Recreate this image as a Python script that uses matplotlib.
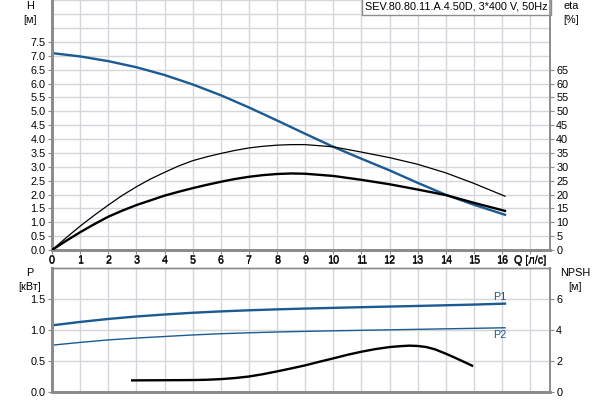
import matplotlib
matplotlib.use("Agg")
import matplotlib.pyplot as plt
from matplotlib.ticker import FixedLocator

plt.rcParams['font.family'] = ['Liberation Sans', 'DejaVu Sans']

# ---------------- data ----------------
title = "SEV.80.80.11.A.4.50D, 3*400 V, 50Hz"
Q = [0, 1, 2, 3, 4, 5, 6, 7, 8, 9, 10, 11, 12, 13, 14, 15, 16.1]
H = [7.1, 6.98, 6.81, 6.59, 6.31, 5.97, 5.58, 5.14, 4.67, 4.19, 3.72, 3.29, 2.87, 2.42, 1.99, 1.63, 1.27]
Q_eta = [0, 0.5, 1, 1.5, 2, 2.5, 3, 3.5, 4, 4.5, 5, 5.5, 6, 6.5, 7, 7.5, 8, 8.5, 9, 10, 11, 12, 13, 14, 15, 16.1]
eta_pump = [0, 4.4, 8.6, 12.5, 16.2, 19.7, 22.8, 25.6, 28.0, 30.3, 32.2, 33.6, 34.8, 35.9, 36.8, 37.4, 37.8, 38.0, 38.0, 37.2, 35.3, 33.3, 30.9, 27.8, 24.0, 19.4]
eta_total = [0, 3.3, 6.4, 9.3, 12.0, 14.2, 16.2, 17.9, 19.6, 21.0, 22.3, 23.5, 24.6, 25.6, 26.4, 27.0, 27.4, 27.6, 27.5, 26.7, 25.3, 23.7, 21.8, 19.8, 17.0, 14.1]
P1 = [1.075, 1.13, 1.178, 1.218, 1.25, 1.278, 1.30, 1.318, 1.333, 1.346, 1.357, 1.368, 1.378, 1.388, 1.399, 1.41, 1.425]
P2 = [0.755, 0.80, 0.84, 0.87, 0.895, 0.92, 0.94, 0.955, 0.968, 0.978, 0.987, 0.995, 1.003, 1.011, 1.019, 1.027, 1.036]
Q_npsh = [2.85, 4, 5, 5.5, 6, 6.5, 7, 7.5, 8, 8.5, 9, 9.5, 10, 10.5, 11, 11.5, 12, 12.4, 12.7, 13, 13.3, 13.6, 14, 14.3, 14.6, 14.93]
NPSH = [0.75, 0.76, 0.77, 0.79, 0.83, 0.9, 1.0, 1.15, 1.33, 1.52, 1.72, 1.95, 2.17, 2.4, 2.6, 2.77, 2.9, 2.96, 2.99, 2.97, 2.9, 2.76, 2.47, 2.23, 1.98, 1.7]
q_ticks = list(range(0, 17))
q_label = "Q [л/с]"

blue = '#1c5a93'
spine_c = '#8c8c8c'
grid_c = '#d3d6da'
fs = 7.8

fig = plt.figure(figsize=(6, 4), dpi=100)

# ---------------- top axes ----------------
ax = fig.add_axes([52/600, 1-250/400, 498/600, 250/400 - 0.001])
ax.set_xlim(0, 17.7)
ax.set_ylim(0, 9.0)
ax.xaxis.set_major_locator(FixedLocator(q_ticks + [17]))
ax.set_xticklabels([str(t) for t in q_ticks] + [q_label])
ax.set_yticks([i*0.5 for i in range(16)])
ax.set_yticklabels([f"{i*0.5:.1f}" for i in range(16)])
ax.set_yticks([i*0.5 for i in range(16, 19)], minor=True)
ax.grid(True, which='both', color=grid_c, lw=1.0)
ax.tick_params(axis='y', which='minor', length=0)
ax.set_axisbelow(True)
ax.plot(Q, H, color=blue, lw=1.7, zorder=3)

ax2 = ax.twinx()
ax2.set_ylim(0, 90)
ax2.set_yticks(list(range(0, 70, 5)))
ax2.plot(Q_eta, eta_pump, color='black', lw=0.9, zorder=3)
ax2.plot(Q_eta, eta_total, color='black', lw=1.7, zorder=3)

for a in (ax, ax2):
    for s in a.spines.values():
        s.set_color(spine_c)
    a.spines['top'].set_visible(False)
    a.spines['left'].set_linewidth(2)
    a.spines['bottom'].set_linewidth(2)
    a.spines['right'].set_linewidth(1.2)
    a.tick_params(labelsize=fs, colors='black', length=3, width=0.8, pad=1.5)
    a.tick_params(axis='both', color=spine_c)
ax.tick_params(axis='x', length=3)

fig.text(30/600, 1-13/400, "H\n[м]", ha='center', va='center', fontsize=fs, linespacing=1.4)
fig.text(571/600, 1-13/400, "eta\n[%]", ha='center', va='center', fontsize=fs, linespacing=1.4)
ax.text(0.995, 0.995, title, transform=ax.transAxes, ha='right', va='top', fontsize=fs,
        bbox=dict(boxstyle='square,pad=0.3', fc='white', ec=spine_c, lw=1), zorder=5)

# ---------------- bottom axes ----------------
bx = fig.add_axes([52/600, 1-392/400, 498/600, 124/400])
bx.set_xlim(0, 17.7)
bx.set_ylim(0, 2.0)
bx.xaxis.set_major_locator(FixedLocator(q_ticks + [17]))
bx.set_xticklabels([str(t) for t in q_ticks] + [q_label])
bx.xaxis.tick_top()
bx.set_yticks([0, 0.5, 1.0, 1.5])
bx.set_yticklabels(["0.0", "0.5", "1.0", "1.5"])
bx.grid(True, color=grid_c, lw=1.0)
bx.set_axisbelow(True)
bx.plot(Q, P1, color=blue, lw=1.7, zorder=3)
bx.plot(Q, P2, color=blue, lw=1.0, zorder=3)
bx.text(Q[-1] - 0.2, P1[-1] + 0.03, "P1", color=blue, fontsize=fs, ha='center', va='bottom')
bx.text(Q[-1] - 0.2, P2[-1] - 0.04, "P2", color=blue, fontsize=fs, ha='center', va='top')

bx2 = bx.twinx()
bx2.set_ylim(0, 8)
bx2.set_yticks([0, 2, 4, 6])
bx2.plot(Q_npsh, NPSH, color='black', lw=1.7, zorder=3)

for a in (bx, bx2):
    for s in a.spines.values():
        s.set_color(spine_c)
    a.spines['top'].set_linewidth(1.0)
    a.spines['left'].set_linewidth(2)
    a.spines['bottom'].set_linewidth(2)
    a.spines['right'].set_linewidth(1.2)
    a.tick_params(labelsize=fs, colors='black', length=3, width=0.8, pad=1.5)
    a.tick_params(axis='both', color=spine_c)
bx.tick_params(axis='x', length=0, pad=2)

fig.text(30/600, 1-280/400, "P\n[кВт]", ha='center', va='center', fontsize=fs, linespacing=1.4)
fig.text(575/600, 1-280/400, "NPSH\n[м]", ha='center', va='center', fontsize=fs, linespacing=1.4)

fig.savefig("out.png", dpi=100)
